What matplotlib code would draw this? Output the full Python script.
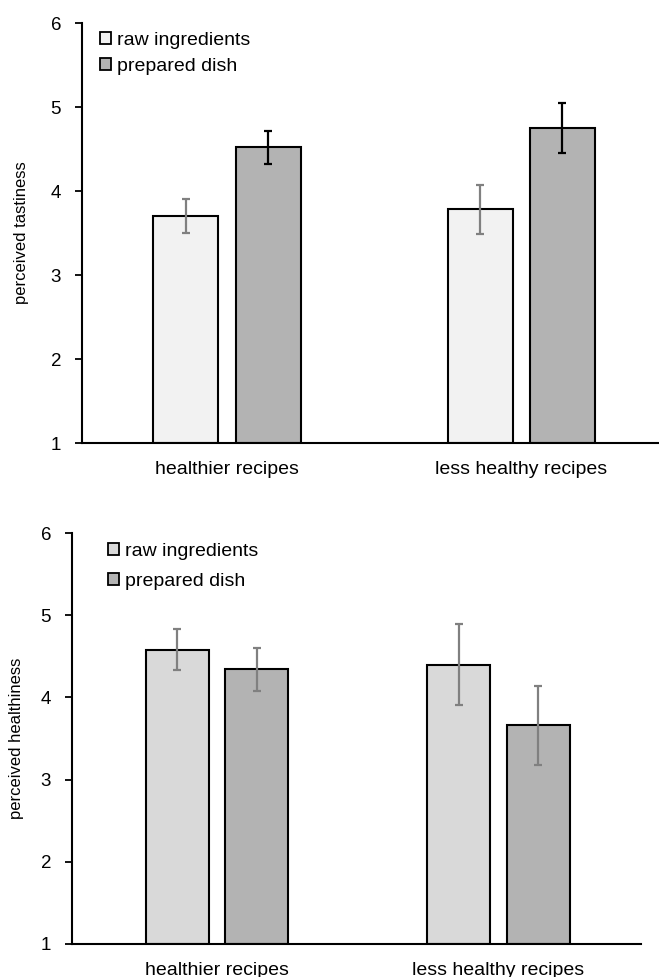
import numpy as np
import matplotlib
matplotlib.use("Agg")
import matplotlib.pyplot as plt
from matplotlib.patches import Patch

plt.rcParams['font.family'] = ['Liberation Sans', 'DejaVu Sans']

categories = ["healthier recipes", "less healthy recipes"]
series = ["raw ingredients", "prepared dish"]

# perceived tastiness (mean, error)
taste_raw = [3.70, 3.78]
taste_raw_err = [0.20, 0.29]
taste_prep = [4.52, 4.75]
taste_prep_err = [0.20, 0.30]

# perceived healthiness (mean, error)
health_raw = [4.58, 4.40]
health_raw_err = [0.25, 0.49]
health_prep = [4.34, 3.66]
health_prep_err = [0.26, 0.48]

yticks = [1, 2, 3, 4, 5, 6]


def bar_panel(ax, raw, raw_err, prep, prep_err, raw_color, prep_ecolor,
              ylabel, xlim, offset, width, label_x, legend_anchor, labelspacing):
    x = np.arange(len(categories))
    ax.bar(x - offset, np.array(raw) - 1, width, bottom=1, color=raw_color,
           edgecolor="black", linewidth=1.5, zorder=2)
    ax.bar(x + offset, np.array(prep) - 1, width, bottom=1, color="#b3b3b3",
           edgecolor="black", linewidth=1.5, zorder=2)
    ax.errorbar(x - offset, raw, yerr=raw_err, fmt="none", ecolor="#808080",
                elinewidth=1.6, capsize=3, capthick=1.6, zorder=3)
    ax.errorbar(x + offset, prep, yerr=prep_err, fmt="none", ecolor=prep_ecolor,
                elinewidth=1.6, capsize=3, capthick=1.6, zorder=3)

    ax.set_ylim(1, 6)
    ax.set_xlim(*xlim)
    ax.set_yticks(yticks)
    ax.set_xticks(x)
    ax.set_xticklabels(categories, fontsize=14)
    ax.tick_params(axis="x", length=0, pad=13)
    ax.tick_params(axis="y", length=5, width=1.3, labelsize=13.5, pad=10)
    ax.set_ylabel(ylabel, fontsize=12)
    ax.yaxis.set_label_coords(label_x, 0.5)
    for side in ("top", "right"):
        ax.spines[side].set_visible(False)
    ax.spines["left"].set_linewidth(1.5)
    ax.spines["bottom"].set_linewidth(1.5)

    handles = [Patch(facecolor=raw_color, edgecolor="black", linewidth=1.3),
               Patch(facecolor="#b3b3b3", edgecolor="black", linewidth=1.3)]
    ax.legend(handles, series, loc="upper left", bbox_to_anchor=legend_anchor,
              bbox_transform=fig.transFigure, frameon=False, fontsize=14,
              handlelength=0.57, handleheight=0.57, handletextpad=0.3,
              labelspacing=labelspacing, borderpad=0, borderaxespad=0)


fig = plt.figure(figsize=(6.59, 9.77), dpi=100)

W, H = 659, 977
ax1 = fig.add_axes([82 / W, 1 - 443 / H, (659 - 82) / W, (443 - 23) / H])
bar_panel(ax1, taste_raw, taste_raw_err, taste_prep, taste_prep_err,
          "#f2f2f2", "black", "perceived tastiness",
          (-0.493, 1.469), 0.1395, 0.221, -0.092,
          (100 / W, 1 - 32 / H), 0.46)

ax2 = fig.add_axes([72 / W, 1 - 944 / H, (641 - 72) / W, (944 - 533) / H])
bar_panel(ax2, health_raw, health_raw_err, health_prep, health_prep_err,
          "#d9d9d9", "#808080", "perceived healthiness",
          (-0.515, 1.506), 0.141, 0.224, -0.084,
          (108 / W, 1 - 543 / H), 0.66)

fig.savefig("out.png", dpi=100)
